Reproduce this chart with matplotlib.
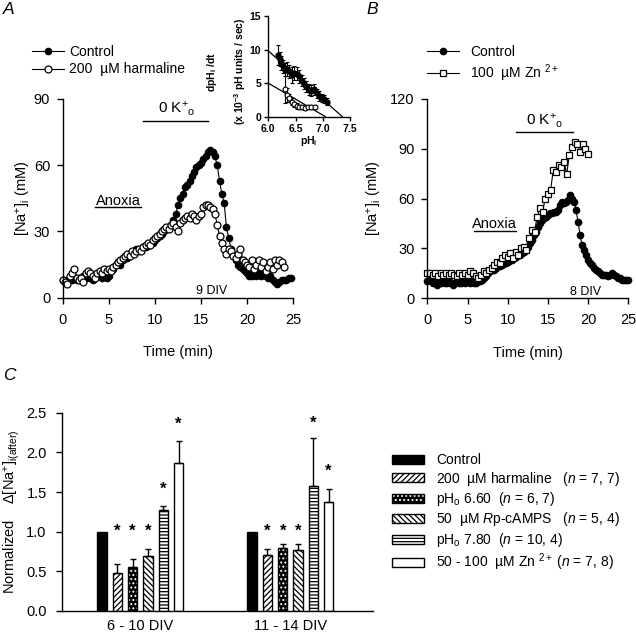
import numpy as np
import matplotlib
matplotlib.use("Agg")
import matplotlib.pyplot as plt

plt.rcParams['font.family'] = ['Liberation Sans', 'DejaVu Sans']
plt.rcParams['mathtext.fontset'] = 'custom'
plt.rcParams['mathtext.rm'] = 'Liberation Sans'
plt.rcParams['mathtext.it'] = 'Liberation Sans:italic'
plt.rcParams['mathtext.bf'] = 'Liberation Sans:bold'
plt.rcParams['hatch.linewidth'] = 0.9

# ---- panel A: [Na+]i traces, control vs harmaline (sampled every 0.25 min)
dt_A = 0.25
naA_ctrl = [8, 7, 8, 9, 8, 9, 8, 9, 8, 10, 9, 10, 9, 8, 9, 10, 10, 9, 11, 9,
            10, 12, 13, 15, 16, 15, 17, 18, 18, 19, 20, 21, 22, 21, 22, 23, 23, 24, 24, 25,
            26, 27, 28, 29, 30, 31, 32, 33, 35, 38, 42, 45, 47, 50, 51, 53, 55, 57, 59, 60,
            61, 63, 64, 66, 67, 66, 64, 60, 53, 47, 43, 32, 27, 22, 19, 17, 15, 14, 13, 12,
            11, 10, 10, 11, 10, 11, 10, 11, 10, 9, 10, 8, 7, 6, 7, 8, 8, 8, 9, 9]
naA_harm = [8, 7, 6, 10, 11, 13, 9, 8, 9, 7, 11, 12, 11, 10, 9, 11, 12, 11, 13, 12,
            13, 12, 14, 15, 16, 17, 18, 19, 20, 19, 21, 20, 21, 22, 21, 23, 24, 25, 24, 26,
            27, 28, 29, 30, 31, 32, 31, 33, 34, 32, 30, 34, 35, 36, 37, 36, 38, 37, 35, 37,
            38, 41, 42, 42, 41, 40, 38, 33, 28, 25, 22, 20, 22, 21, 19, 18, 20, 22, 17, 16,
            15, 14, 17, 13, 15, 17, 14, 16, 12, 14, 16, 13, 17, 15, 17, 16, 14]
anoxia_A = (3.5, 8.5)
zerok_A = (8.7, 15.7)

# inset: dpHi/dt vs pHi
ph_ctrl = [6.17, 6.21, 6.24, 6.27, 6.31, 6.35, 6.38, 6.43, 6.48, 6.52, 6.56,
           6.61, 6.65, 6.70, 6.74, 6.79, 6.84, 6.89, 6.93, 6.98, 7.03, 7.07]
rate_ctrl = [9.25, 8.6, 8.0, 7.5, 7.0, 7.1, 6.75, 6.25, 6.5, 6.4, 6.0,
             5.35, 4.9, 4.5, 4.0, 3.9, 4.1, 3.5, 3.1, 2.75, 2.6, 2.25]
err_ctrl = [1.5, 1.0, 1.0, 1.0, 1.0, 1.0, 1.0, 1.2, 1.0, 1.0, 1.0,
            0.8, 0.8, 0.8, 0.8, 0.8, 0.8, 0.7, 0.7, 0.6, 0.6, 0.5]
ph_harm = [6.31, 6.34, 6.38, 6.43, 6.48, 6.52, 6.57, 6.62, 6.67, 6.73, 6.79, 6.85]
rate_harm = [4.1, 3.25, 2.75, 2.25, 1.85, 1.6, 1.5, 1.4, 1.35, 1.4, 1.5, 1.4]
err_harm = [2.0, 1.0, 0.6, 0.5, 0.4, 0.4, 0.3, 0.3, 0.3, 0.3, 0.3, 0.3]
fit_ctrl_ph, fit_ctrl_rate = [6.0, 7.36], [9.8, 0.0]
fit_harm_ph, fit_harm_rate = [6.0, 7.05], [5.0, 0.0]

# ---- panel B: control vs Zn2+
dt_Bc = 0.25
naB_ctrl = [10, 11, 10, 9, 10, 8, 9, 9, 10, 9, 9, 10, 9, 8, 9, 10, 9, 9, 10, 9,
            10, 9, 10, 9, 9, 10, 10, 11, 12, 13, 15, 16, 17, 17, 18, 19, 19, 20, 21, 21,
            22, 23, 23, 24, 25, 26, 26, 27, 28, 29, 31, 33, 35, 38, 40, 43, 45, 47, 48, 49,
            50, 51, 51, 52, 52, 53, 56, 58, 57, 58, 59, 62, 60, 58, 53, 46, 38, 32, 29, 26,
            23, 21, 20, 18, 17, 16, 15, 14, 14, 14, 13, 14, 15, 14, 13, 12, 12, 11, 11, 11, 11]
dt_Bz = 1 / 3
naB_zn = [15, 15, 14, 15, 13, 15, 14, 15, 14, 15, 14, 13, 15, 14, 15, 14, 16, 15, 13, 12,
          14, 16, 15, 17, 18, 20, 22, 21, 24, 26, 25, 27, 24, 28, 26, 30, 31, 29, 36, 41,
          40, 49, 54, 52, 60, 63, 65, 77, 76, 80, 79, 82, 75, 86, 91, 94, 93, 88, 93, 90, 87]
anoxia_B = (5.85, 11.07)
zerok_B = (11.07, 18.1)

# ---- panel C: normalized delta [Na+]i
groups = ['6 - 10 DIV', '11 - 14 DIV']
conditions = ['Control',
              '200  \u00b5M harmaline   ($n$ = 7, 7)',
              'pH$_{\\rm o}$ 6.60  ($n$ = 6, 7)',
              '50  \u00b5M $R$p-cAMPS   ($n$ = 5, 4)',
              'pH$_{\\rm o}$ 7.80  ($n$ = 10, 4)',
              '50 - 100  \u00b5M Zn $^{2+}$ ($n$ = 7, 8)']
means = [[1.0, 0.48, 0.56, 0.69, 1.27, 1.87],
         [1.0, 0.71, 0.80, 0.77, 1.57, 1.37]]
sems = [[0.0, 0.11, 0.10, 0.09, 0.05, 0.27],
        [0.0, 0.07, 0.04, 0.08, 0.61, 0.17]]
star_y = [[None, 1.0, 1.0, 1.0, 1.53, 2.35],
          [None, 1.01, 1.01, 1.01, 2.37, 1.76]]
faces = ['black', 'white', 'black', 'white', 'white', 'white']
hatch_cols = ['black', 'black', 'white', 'black', 'black', 'black']
hatches = [None, '//////', '....', '\\\\\\\\\\\\', '-----', None]

W, H = 636, 639


def rect(l, t, r, b):
    return [l / W, 1 - b / H, (r - l) / W, (b - t) / H]


def style(ax, size=10.5, length=4):
    for s in ('top', 'right'):
        ax.spines[s].set_visible(False)
    for s in ('left', 'bottom'):
        ax.spines[s].set_linewidth(1.0)
    ax.tick_params(direction='out', length=length, width=1.0, labelsize=size)


fig = plt.figure(figsize=(W / 100, H / 100), dpi=100)

# ---------------- A
axA = fig.add_axes(rect(62.7, 99, 293.3, 297.7))
tA1 = np.arange(len(naA_ctrl)) * dt_A
tA2 = np.arange(len(naA_harm)) * dt_A
axA.plot(tA1, naA_ctrl, '-o', color='k', lw=0.8, ms=4.5, mfc='k', mec='k',
         clip_on=False, label='Control')
axA.plot(tA2, naA_harm, '-o', color='k', lw=0.8, ms=5, mfc='white', mec='k',
         mew=0.9, clip_on=False, label='200  \u00b5M harmaline')
axA.set_xlim(0, 25)
axA.set_ylim(0, 90)
axA.set_xticks([0, 5, 10, 15, 20, 25])
axA.set_yticks([0, 30, 60, 90])
style(axA)
axA.tick_params(axis='x', pad=7)
axA.tick_params(axis='y', pad=5)
axA.set_xlabel('Time (min)', fontsize=10.5)
axA.xaxis.set_label_coords(0.5, -0.24)
axA.set_ylabel('[Na$^{+}$]$_{\\rm i}$ (mM)', fontsize=10.5)
axA.yaxis.set_label_coords(-0.127, 0.5)
axA.plot(anoxia_A, [40.9, 40.9], color='k', lw=1.0)
axA.text(np.mean(anoxia_A), 42.0, 'Anoxia', ha='center', va='baseline', fontsize=10.5)
axA.plot(zerok_A, [80.2, 80.2], color='k', lw=1.0)
axA.text(12.4, 83.4, '0 K$^{+}$$_{\\rm o}$', ha='center', va='baseline', fontsize=11)
axA.text(16.1, 1.5, '9 DIV', ha='center', va='baseline', fontsize=9)
axA.legend(loc='upper left', bbox_to_anchor=(31.7 / W, 1 - 45 / H),
           bbox_transform=fig.transFigure, frameon=False, fontsize=10,
           handlelength=2.3, handletextpad=0.4, labelspacing=0.25,
           borderpad=0, borderaxespad=0)

# inset
axI = fig.add_axes(rect(268.3, 16, 350, 116.7))
axI.plot(fit_ctrl_ph, fit_ctrl_rate, color='k', lw=0.9)
axI.plot(fit_harm_ph, fit_harm_rate, color='k', lw=0.9)
axI.errorbar(ph_ctrl, rate_ctrl, yerr=err_ctrl, fmt='o', color='k', ms=3.5,
             mfc='k', elinewidth=0.8, capsize=1.5, capthick=0.8)
axI.errorbar(ph_harm, rate_harm, yerr=err_harm, fmt='o', color='k', ms=3.5,
             mfc='white', mew=0.8, elinewidth=0.8, capsize=1.5, capthick=0.8)
axI.set_xlim(6.0, 7.5)
axI.set_ylim(0, 15)
axI.set_xticks([6.0, 6.5, 7.0, 7.5])
axI.set_xticklabels(['6.0', '6.5', '7.0', '7.5'])
axI.set_yticks([0, 5, 10, 15])
style(axI, size=7.5, length=3)
axI.tick_params(pad=2)
for lab in axI.get_xticklabels() + axI.get_yticklabels():
    lab.set_fontweight('bold')
axI.set_xlabel('$\\mathbf{pH}_\\mathbf{i}$', fontsize=7.5, labelpad=0)
axI.text(-0.69, 0.44, 'dpH$_{\\mathbf{i}}$ /dt', rotation=90, fontsize=7.5,
         fontweight='bold', ha='center', va='center', transform=axI.transAxes)
axI.text(-0.35, 0.45, '(x 10$^{\\mathbf{-3}}$ pH units / sec)', rotation=90,
         fontsize=7.5, fontweight='bold', ha='center', va='center',
         transform=axI.transAxes)

# ---------------- B
axB = fig.add_axes(rect(427.3, 99, 628.3, 298))
tB1 = np.arange(len(naB_ctrl)) * dt_Bc
tB2 = np.arange(len(naB_zn)) * dt_Bz
axB.plot(tB1, naB_ctrl, '-o', color='k', lw=0.8, ms=4.5, mfc='k', mec='k',
         clip_on=False, label='Control')
axB.plot(tB2, naB_zn, '-s', color='k', lw=0.8, ms=4.5, mfc='white', mec='k',
         mew=0.9, clip_on=False, label='100  \u00b5M Zn $^{2+}$')
axB.set_xlim(0, 25)
axB.set_ylim(0, 120)
axB.set_xticks([0, 5, 10, 15, 20, 25])
axB.set_yticks([0, 30, 60, 90, 120])
style(axB)
axB.tick_params(axis='x', pad=7)
axB.tick_params(axis='y', pad=5)
axB.set_xlabel('Time (min)', fontsize=10.5)
axB.xaxis.set_label_coords(0.5, -0.24)
axB.set_ylabel('[Na$^{+}$]$_{\\rm i}$ (mM)', fontsize=10.5)
axB.yaxis.set_label_coords(-0.216, 0.5)
axB.plot(anoxia_B, [40.7, 40.7], color='k', lw=1.0)
axB.text(8.35, 42.5, 'Anoxia', ha='center', va='baseline', fontsize=10.5)
axB.plot(zerok_B, [100.3, 100.3], color='k', lw=1.0)
axB.text(14.6, 104.3, '0 K$^{+}$$_{\\rm o}$', ha='center', va='baseline', fontsize=11)
axB.text(19.65, 1.8, '8 DIV', ha='center', va='baseline', fontsize=9)
axB.legend(loc='upper left', bbox_to_anchor=(426.7 / W, 1 - 45 / H),
           bbox_transform=fig.transFigure, frameon=False, fontsize=10,
           handlelength=2.3, handletextpad=0.8, labelspacing=0.25,
           borderpad=0, borderaxespad=0)

# ---------------- C
axC = fig.add_axes(rect(62, 412.7, 373, 611))
step, width = 0.102, 0.0633
centers = np.arange(len(groups))
handles = []
for i, cond in enumerate(conditions):
    xs = centers + (i - 2.5) * step
    ms_ = [m[i] for m in means]
    fillbars = axC.bar(xs, ms_, width=width, color=faces[i], edgecolor=hatch_cols[i],
                       linewidth=0, hatch=hatches[i])
    outline = axC.bar(xs, ms_, width=width, fill=False, edgecolor='k', linewidth=1.0)
    handles.append((fillbars, outline))
    if i > 0:
        er = [s[i] for s in sems]
        axC.errorbar(xs, ms_, yerr=[np.zeros(len(er)), er], fmt='none',
                     ecolor='k', elinewidth=1.0, capsize=2.5, capthick=1.0)
        for g, x in enumerate(xs):
            axC.text(x, star_y[g][i], '*', ha='center', va='center',
                     fontsize=12, fontweight='bold')
axC.set_xlim(-0.522, 1.551)
axC.set_ylim(0, 2.5)
axC.set_yticks([0.0, 0.5, 1.0, 1.5, 2.0, 2.5])
axC.set_yticklabels(['0.0', '0.5', '1.0', '1.5', '2.0', '2.5'])
axC.set_xticks(centers)
axC.set_xticklabels(groups)
style(axC)
axC.tick_params(axis='x', length=0, pad=6)
axC.tick_params(axis='y', pad=7)
axC.set_ylabel('Normalized    \u0394[Na$^{+}$]$_{\\rm i(after)}$', fontsize=10.5)
axC.yaxis.set_label_coords(-0.13, 0.5)
axC.legend(handles=handles, labels=conditions, loc='upper left',
           bbox_to_anchor=(391.7 / W, 1 - 453 / H), bbox_transform=fig.transFigure,
           frameon=False, fontsize=10, handlelength=2.3, handleheight=0.6,
           handletextpad=0.9, labelspacing=0.18, borderpad=0, borderaxespad=0)

# panel letters
fig.text(3 / W, 1 - 2 / H, 'A', fontsize=12.5, style='italic', va='top')
fig.text(366 / W, 1 - 2 / H, 'B', fontsize=12.5, style='italic', va='top')
fig.text(3 / W, 1 - 368 / H, 'C', fontsize=12.5, style='italic', va='top')

fig.savefig('out.png', dpi=100)
